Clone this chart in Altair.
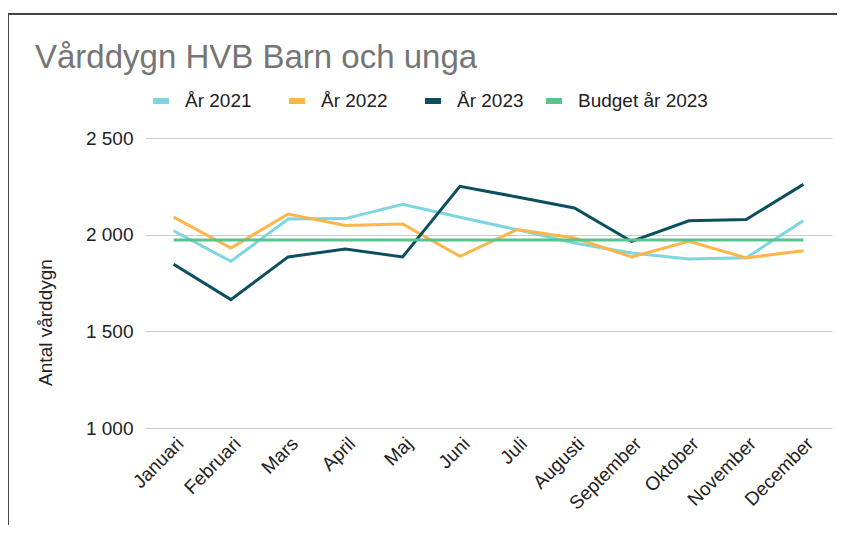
import altair as alt
import pandas as pd

months = ["Januari", "Februari", "Mars", "April", "Maj", "Juni", "Juli",
          "Augusti", "September", "Oktober", "November", "December"]
series_names = ["År 2021", "År 2022", "År 2023", "Budget år 2023"]
y2021 = [2020, 1862, 2081, 2083, 2157, 2090, 2026, 1957, 1905, 1874, 1880, 2072]
y2022 = [2091, 1931, 2107, 2047, 2055, 1888, 2026, 1983, 1885, 1966, 1880, 1917]
y2023 = [1847, 1664, 1885, 1926, 1885, 2250, 2195, 2138, 1965, 2072, 2078, 2260]
budget = [1973, 1973, 1973, 1973, 1973, 1973, 1973, 1973, 1973, 1973, 1973, 1973]
colors = ["#7CD6E1", "#FFB549", "#0B4F5F", "#57C38D"]
legend_x = [5, 141, 277, 398]
y_ticks = [1000, 1500, 2000, 2500]

rows = []
for name, vals in zip(series_names, [y2021, y2022, y2023, budget]):
    for m, v in zip(months, vals):
        rows.append({"Månad": m, "Serie": name, "Värde": v})
df = pd.DataFrame(rows)

FONT = "Liberation Sans"

x_enc = alt.X("Månad:N", sort=months, scale=alt.Scale(paddingInner=0, paddingOuter=0.5),
              axis=alt.Axis(title=None, labelAngle=-45, labelAlign="right", labelBaseline="top",
                            labelFontSize=19, labelColor="#222222", labelFont=FONT,
                            domain=False, ticks=False, grid=False, labelPadding=6))
y_enc = alt.Y("Värde:Q", scale=alt.Scale(domain=[1000, 2500], nice=False, zero=False),
              axis=alt.Axis(title="Antal vårddygn", values=y_ticks,
                            labelExpr="replace(format(datum.value, ','), ',', ' ')",
                            labelFontSize=19, labelColor="#222222", labelFont=FONT,
                            labelPadding=12, domain=False, ticks=False,
                            grid=True, gridColor="#CCCCCC", gridWidth=1,
                            titleFont=FONT, titleFontSize=19, titleFontWeight="normal",
                            titleColor="#222222", titleAngle=-90, titleX=-100, titleY=184,
                            titleAlign="center", titleBaseline="middle"))

layers = []
for name, col, lx in zip(series_names, colors, legend_x):
    layers.append(
        alt.Chart(df).transform_filter(alt.datum.Serie == name).mark_line(strokeWidth=3).encode(
            x=x_enc, y=y_enc,
            color=alt.Color("Serie:N", scale=alt.Scale(domain=[name], range=[col]),
                            legend=alt.Legend(title=None, orient="none", direction="horizontal",
                                              legendX=lx, legendY=-48, symbolType="stroke",
                                              symbolStrokeWidth=6, symbolSize=256,
                                              labelFontSize=19, labelFont=FONT,
                                              labelColor="#222222", labelOffset=13)),
        )
    )

frame_left = alt.Chart(df).mark_rule(color="#444444", strokeWidth=2).encode(
    x=alt.value(-137), y=alt.value(-124), y2=alt.value(420))
frame_top = alt.Chart(df).mark_rule(color="#444444", strokeWidth=2).encode(
    x=alt.value(-138), x2=alt.value(720), y=alt.value(-124))

chart = alt.layer(*layers, frame_left, frame_top).resolve_scale(color="independent").properties(
    width=687, height=290,
    title=alt.TitleParams("Vårddygn HVB Barn och unga", anchor="start", frame="group",
                          dx=-110, dy=79, fontSize=33, font=FONT, fontWeight="normal",
                          color="#757575", offset=17),
    autosize=alt.AutoSizeParams(type="none"),
    padding={"left": 137, "top": 130, "right": 5, "bottom": 97},
).configure_view(stroke=None)

chart.save("out.html", embed_options={"renderer": "svg", "actions": False})
